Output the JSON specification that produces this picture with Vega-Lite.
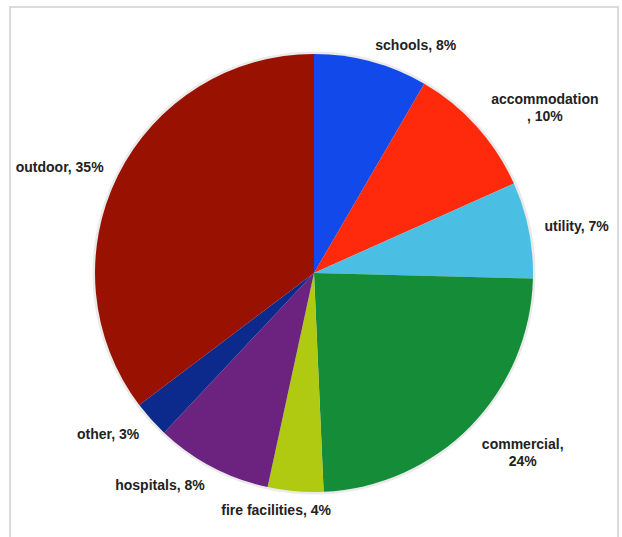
{
  "$schema": "https://vega.github.io/schema/vega-lite/v6.json",
  "width": 622,
  "height": 537,
  "autosize": {"type": "fit", "contains": "padding"},
  "padding": {"left": 9, "top": 6, "right": 3, "bottom": -3},
  "background": "#ffffff",
  "config": {"view": {"stroke": null}},
  "data": {
    "values": [
      {"idx": 1, "cat": "schools", "v": 8.4, "label": "schools, 8%"},
      {"idx": 2, "cat": "accommodation", "v": 9.9, "label": "accommodation\n, 10%"},
      {"idx": 3, "cat": "utility", "v": 7.1, "label": "utility, 7%"},
      {"idx": 4, "cat": "commercial", "v": 23.9, "label": "commercial,\n24%"},
      {"idx": 5, "cat": "fire facilities", "v": 4.1, "label": "fire facilities, 4%"},
      {"idx": 6, "cat": "hospitals", "v": 8.6, "label": "hospitals, 8%"},
      {"idx": 7, "cat": "other", "v": 2.7, "label": "other, 3%"},
      {"idx": 8, "cat": "outdoor", "v": 35.3, "label": "outdoor, 35%"}
    ]
  },
  "layer": [
    {
      "data": {"values": [{"frame": 1}]},
      "mark": {"type": "rect", "fill": null, "stroke": "#cfcfcf", "strokeWidth": 1.5},
      "encoding": {}
    },
    {
      "data": {"values": [{"shadow": 1}]},
      "mark": {"type": "arc", "outerRadius": 221.5, "fill": "#888888", "opacity": 0.18, "stroke": null},
      "encoding": {}
    },
    {
      "mark": {"type": "arc", "outerRadius": 219, "stroke": null},
      "encoding": {
        "theta": {"field": "v", "type": "quantitative", "stack": true},
        "order": {"field": "idx", "type": "quantitative"},
        "color": {
          "field": "cat",
          "type": "nominal",
          "legend": null,
          "scale": {
            "domain": ["schools", "accommodation", "utility", "commercial", "fire facilities", "hospitals", "other", "outdoor"],
            "range": ["#1149ea", "#ff2a0c", "#4bbfe3", "#148c38", "#b0ca12", "#6c2380", "#0c2a8c", "#991100"]
          }
        }
      }
    },
    {
      "mark": {"type": "text", "radius": 235, "align": "left", "baseline": "middle", "font": "Liberation Sans", "fontWeight": "bold", "fontSize": 14, "fill": "#222222"},
      "encoding": {
        "theta": {"field": "v", "type": "quantitative", "stack": true},
        "order": {"field": "idx", "type": "quantitative"},
        "text": {"condition": {"test": "datum.cat === 'schools' || datum.cat === 'utility'", "field": "label"}, "value": ""}
      }
    },
    {
      "mark": {"type": "text", "radius": 235, "align": "right", "baseline": "middle", "font": "Liberation Sans", "fontWeight": "bold", "fontSize": 14, "fill": "#222222"},
      "encoding": {
        "theta": {"field": "v", "type": "quantitative", "stack": true},
        "order": {"field": "idx", "type": "quantitative"},
        "text": {"condition": {"test": "datum.cat === 'outdoor'", "field": "label"}, "value": ""}
      }
    },
    {
      "mark": {"type": "text", "radius": 235, "align": "right", "baseline": "middle", "dy": 5, "font": "Liberation Sans", "fontWeight": "bold", "fontSize": 14, "fill": "#222222"},
      "encoding": {
        "theta": {"field": "v", "type": "quantitative", "stack": true},
        "order": {"field": "idx", "type": "quantitative"},
        "text": {"condition": {"test": "datum.cat === 'hospitals' || datum.cat === 'other'", "field": "label"}, "value": ""}
      }
    },
    {
      "mark": {"type": "text", "radius": 235, "align": "center", "baseline": "middle", "dx": -18, "dy": 4, "font": "Liberation Sans", "fontWeight": "bold", "fontSize": 14, "fill": "#222222"},
      "encoding": {
        "theta": {"field": "v", "type": "quantitative", "stack": true},
        "order": {"field": "idx", "type": "quantitative"},
        "text": {"condition": {"test": "datum.cat === 'fire facilities'", "field": "label"}, "value": ""}
      }
    },
    {
      "mark": {"type": "text", "radius": 235, "align": "center", "baseline": "middle", "dx": 56, "dy": -16, "lineBreak": "\n", "lineHeight": 17, "font": "Liberation Sans", "fontWeight": "bold", "fontSize": 14, "fill": "#222222"},
      "encoding": {
        "theta": {"field": "v", "type": "quantitative", "stack": true},
        "order": {"field": "idx", "type": "quantitative"},
        "text": {"condition": {"test": "datum.cat === 'accommodation'", "field": "label"}, "value": ""}
      }
    },
    {
      "mark": {"type": "text", "radius": 235, "align": "center", "baseline": "middle", "dx": 41, "dy": 7, "lineBreak": "\n", "lineHeight": 17, "font": "Liberation Sans", "fontWeight": "bold", "fontSize": 14, "fill": "#222222"},
      "encoding": {
        "theta": {"field": "v", "type": "quantitative", "stack": true},
        "order": {"field": "idx", "type": "quantitative"},
        "text": {"condition": {"test": "datum.cat === 'commercial'", "field": "label"}, "value": ""}
      }
    }
  ]
}
